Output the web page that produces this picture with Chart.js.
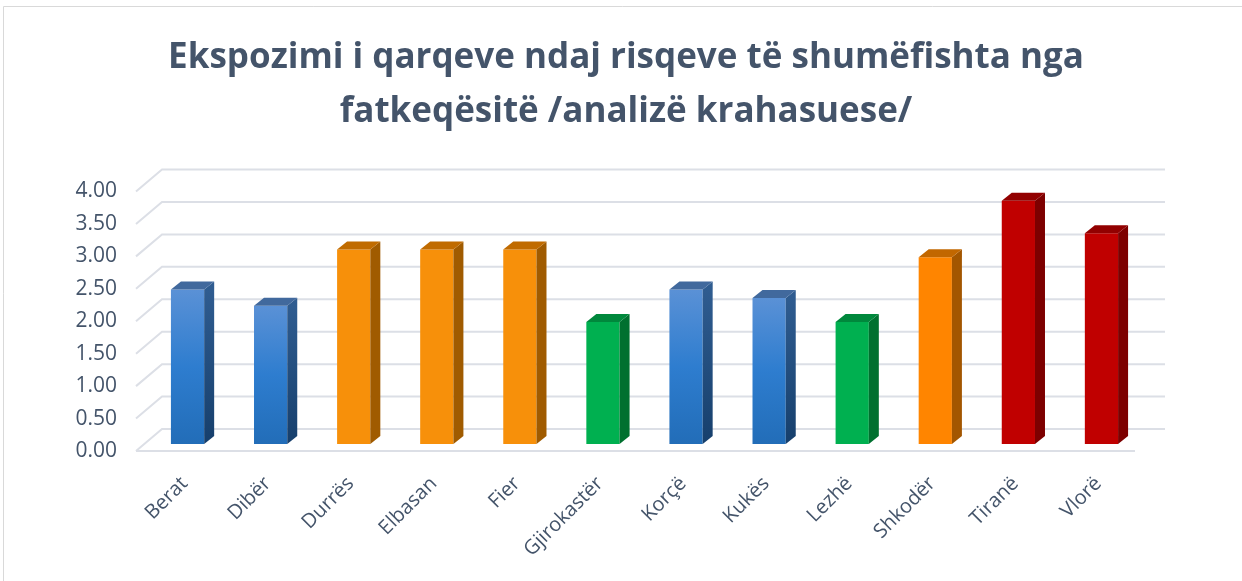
<!DOCTYPE html>
<html><head><meta charset="utf-8">
<script src="https://cdn.jsdelivr.net/npm/chart.js@4"></script>
<style>html,body{margin:0;padding:0;background:#fff;}</style>
</head><body>
<canvas id="c" width="1242" height="581"></canvas>
<script>
// ---- data ----
const categories = ['Berat','Dibër','Durrës','Elbasan','Fier','Gjirokastër','Korçë','Kukës','Lezhë','Shkodër','Tiranë','Vlorë'];
const values = [2.38, 2.13, 3.00, 3.00, 3.00, 1.88, 2.38, 2.25, 1.88, 2.88, 3.75, 3.25];
const riskGroup = ['blue','blue','orange','orange','orange','green','blue','blue','green','orange2','red','red'];
const yTickLabels = ['0.00','0.50','1.00','1.50','2.00','2.50','3.00','3.50','4.00'];
const titleLines = ['Ekspozimi i qarqeve ndaj risqeve të shumëfishta nga', 'fatkeqësitë /analizë krahasuese/'];

// ---- styles ----
const palette = {
  blue:    {front:['#5A91D6','#2E7DCF','#226DB8'], side:['#2F5C90','#163F6C'], top:'#41699D'},
  orange:  {front:'#F7900A', side:'#A05B00', top:'#C06B00'},
  orange2: {front:'#FF8500', side:'#A35600', top:'#C26700'},
  green:   {front:'#00B050', side:'#00702F', top:'#00883C'},
  red:     {front:'#C00000', side:'#7D0000', top:'#920000'}
};
const TXT = '#44546A', GRID = '#DCDFE6';
const FLOOR_DX = 26, FLOOR_DY = 22;   // depth of floor
const BAR_SX = 8, BAR_SY = 7;         // bar front face position in depth
const BAR_DX = 10, BAR_DY = 8;        // bar depth

function frontFill(c) {
  const p = palette[riskGroup[c.dataIndex]];
  if (!Array.isArray(p.front)) return p.front;
  const y = c.chart.scales.y;
  if (!y || !c.chart.chartArea) return p.front[1];
  const g = c.chart.ctx.createLinearGradient(0, y.getPixelForValue(values[c.dataIndex]), 0, y.getPixelForValue(0));
  g.addColorStop(0, p.front[0]); g.addColorStop(0.5, p.front[1]); g.addColorStop(1, p.front[2]);
  return g;
}

const threeD = {
  id: 'threeD',
  beforeDraw(chart) {
    const ctx = chart.ctx;
    ctx.save();
    ctx.strokeStyle = '#D9D9D9'; ctx.lineWidth = 1;
    ctx.beginPath(); ctx.moveTo(3.5, chart.height); ctx.lineTo(3.5, 6.5); ctx.lineTo(chart.width, 6.5); ctx.stroke();
    ctx.restore();
  },
  beforeDatasetsDraw(chart) {
    const {ctx, chartArea: a, scales: {y}} = chart;
    ctx.save();
    ctx.strokeStyle = GRID; ctx.lineWidth = 2;
    y.ticks.forEach(t => {
      const py = y.getPixelForValue(t.value);
      ctx.beginPath();
      ctx.moveTo(a.left - 2, py);
      ctx.lineTo(a.left - 2 + FLOOR_DX, py - FLOOR_DY);
      ctx.lineTo(a.right + FLOOR_DX + 4, py - FLOOR_DY);
      ctx.stroke();
    });
    const p0 = y.getPixelForValue(0);
    ctx.beginPath(); ctx.moveTo(a.left - 2, p0); ctx.lineTo(a.right, p0); ctx.stroke();
    ctx.restore();
    ctx.save();
    ctx.translate(BAR_SX, -BAR_SY);
  },
  afterDatasetsDraw(chart) {
    const ctx = chart.ctx;
    ctx.restore();
    const meta = chart.getDatasetMeta(0);
    meta.data.forEach((el, i) => {
      const p = palette[riskGroup[i]];
      const {x, y, base, width} = el.getProps(['x','y','base','width'], true);
      const l = x - width / 2 + BAR_SX, r = x + width / 2 + BAR_SX;
      const t = y - BAR_SY, b = base - BAR_SY;
      ctx.save();
      let side = p.side;
      if (Array.isArray(side)) {
        const g = ctx.createLinearGradient(0, t, 0, b);
        g.addColorStop(0, side[0]); g.addColorStop(1, side[1]); side = g;
      }
      ctx.fillStyle = side;
      ctx.beginPath();
      ctx.moveTo(r, t); ctx.lineTo(r + BAR_DX, t - BAR_DY); ctx.lineTo(r + BAR_DX, b - BAR_DY); ctx.lineTo(r, b);
      ctx.closePath(); ctx.fill();
      ctx.fillStyle = p.top;
      ctx.beginPath();
      ctx.moveTo(l, t); ctx.lineTo(l + BAR_DX, t - BAR_DY); ctx.lineTo(r + BAR_DX, t - BAR_DY); ctx.lineTo(r, t);
      ctx.closePath(); ctx.fill();
      ctx.restore();
    });
  }
};

new Chart(document.getElementById('c'), {
  type: 'bar',
  data: {
    labels: categories,
    datasets: [{
      data: values,
      backgroundColor: frontFill,
      borderWidth: 0,
      categoryPercentage: 1,
      barPercentage: 0.4,
      clip: false
    }]
  },
  options: {
    responsive: false,
    animation: false,
    devicePixelRatio: 1,
    layout: {padding: {left: 10, right: 0, top: 0, bottom: 0}},
    plugins: {
      legend: {display: false},
      tooltip: {enabled: false},
      title: {
        display: true,
        text: titleLines,
        color: TXT,
        font: {family: '"Open Sans", sans-serif', size: 35, weight: 'bold', lineHeight: 1.55},
        padding: {top: 31, bottom: 52}
      }
    },
    scales: {
      x: {
        grid: {display: false},
        border: {display: false},
        ticks: {color: TXT, font: {family: '"Open Sans", sans-serif', size: 20}, minRotation: 45, maxRotation: 45, padding: 13, labelOffset: 5},
        afterFit(s) { s.height = 130; }
      },
      y: {
        min: 0, max: 4,
        grid: {display: false, drawTicks: false},
        border: {display: false},
        ticks: {
          stepSize: 0.5,
          color: TXT,
          font: {family: '"Open Sans", sans-serif', size: 21},
          padding: 21,
          callback: (v) => yTickLabels[Math.round(v / 0.5)]
        },
        afterFit(s) { s.width = 128; }
      },
      yRight: {
        position: 'right',
        grid: {display: false, drawTicks: false},
        border: {display: false},
        ticks: {display: false},
        afterFit(s) { s.width = 107; }
      }
    }
  },
  plugins: [threeD]
});
</script>
</body></html>
